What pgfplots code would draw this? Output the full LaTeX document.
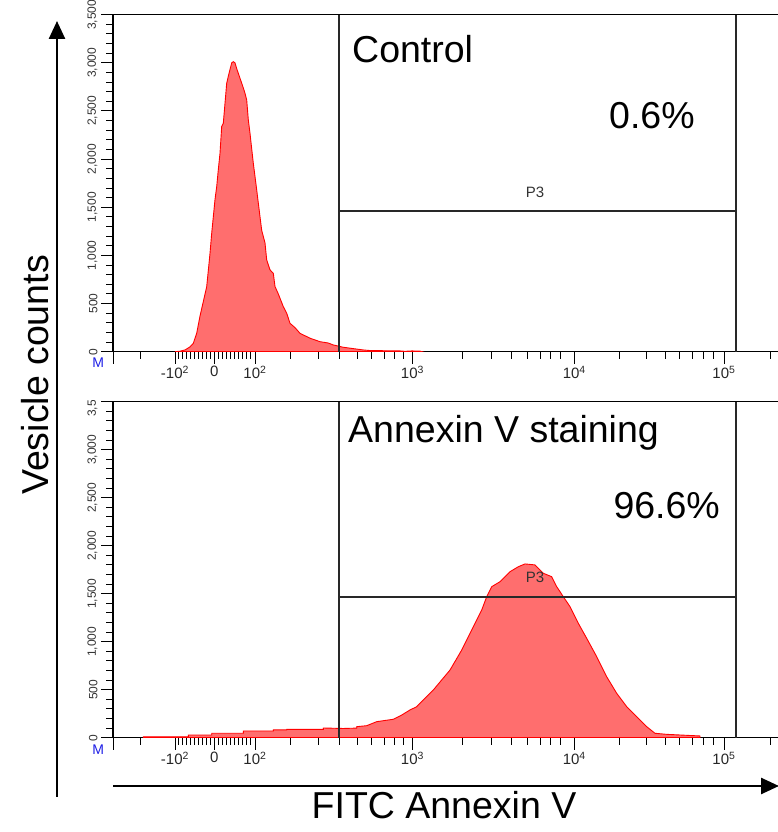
\documentclass[border=0pt]{standalone}
\usepackage{fontspec}
\setmainfont{Liberation Sans}
\usepackage{pgfplots}
\pgfplotsset{compat=1.18}
\usetikzlibrary{arrows.meta}
\definecolor{histfill}{RGB}{255,110,110}
\definecolor{histline}{RGB}{255,0,0}
\definecolor{mblue}{RGB}{30,30,230}
\definecolor{gateline}{RGB}{40,40,40}

\pgfplotsset{flowaxis/.style={
  scale only axis, width=665pt,
  xmin=113, xmax=778, ymin=0, ymax=3500,
  axis x line*=box, axis y line*=left,
  axis line style={line width=1.2pt, black},
  tick align=outside, xtick pos=left, ytick pos=left,
  major tick length=12pt, minor tick length=7pt,
  every tick/.style={line width=1pt, black},
  xtick={113,175,214.3,255,412.5,574.3,724},
  xticklabels={,-10\textsuperscript{2},0,10\textsuperscript{2},10\textsuperscript{3},10\textsuperscript{4},10\textsuperscript{5}},
  minor xtick={140.7,178.3,182.3,186.3,190.3,194.3,198.3,202.3,206.3,210.3,218.3,222.3,226.3,230.3,234.3,238.3,242.3,246.3,250.3,290,318.3,339.3,357.3,371.7,384,394.3,403.3,462.7,491,511.7,527.7,540,550.7,560,619.3,646,665,679.3,692.7,703.3,713.3,770},
  ytick={0,500,1000,1500,2000,2500,3000,3500},
  yticklabels={0,500,{1,000},{1,500},{2,000},{2,500},{3,000},{3,500}},
  minor y tick num=4,
  xticklabel style={font=\fontsize{15}{15}\selectfont, text=black!85, yshift=1pt},
  yticklabel style={font=\fontsize{12}{12}\selectfont, rotate=90, anchor=south, text=black!80},
}}

\begin{document}
\begin{tikzpicture}
\path[use as bounding box] (0,0) rectangle (778pt,832pt);

% ---------- top panel: Control ----------
\begin{axis}[flowaxis, height=337pt, at={(113pt,480.3pt)}, anchor=south west]
\addplot[fill=histfill, draw=histline, line width=0.9pt] coordinates {
(175,0) (180,5) (185,18) (190,50) (193.3,87) (196.7,191) (200,370) (203.3,520)
(206.7,675) (210,1020) (211.7,1230) (215,1580) (216.7,1714) (218.3,1890) (220,2060)
(221.7,2340) (223.3,2372) (225,2580) (226.7,2788) (228.3,2860) (231.7,3000) (233.3,3012)
(235,3000) (236.7,2940) (240,2840) (243.3,2740) (245,2684) (246.7,2614) (248.3,2410)
(250,2268) (253.3,1957) (255,1820) (256.7,1680) (260,1402) (261.7,1260) (265,1130)
(266.7,953) (270,850) (273.3,814) (275,677) (278.3,600) (283.3,468) (286.7,400)
(290,295) (295,250) (300,191) (310,140) (320,104) (328.3,90) (333.3,70) (343.3,46)
(363.3,18) (370,12) (385,10) (400,8) (405,4) (412,8) (420,6) (422,0)
} \closedcycle;
\draw[gateline, line width=1.2pt] (axis cs:339,0) -- (axis cs:339,3500);
\draw[gateline, line width=1.2pt] (axis cs:736,0) -- (axis cs:736,3500);
\draw[gateline, line width=1.2pt] (axis cs:339,1462) -- (axis cs:736,1462);
\node[font=\fontsize{15}{15}\selectfont, text=black!80, inner sep=0] at (axis cs:535,1659) {P3};
\end{axis}

% ---------- bottom panel: Annexin V staining ----------
\begin{axis}[flowaxis, height=336pt, at={(113pt,94.3pt)}, anchor=south west]
\addplot[fill=histfill, draw=histline, line width=0.9pt] coordinates {
(143.3,0) (143.3,10) (188.3,10) (188.3,28) (211.7,28) (211.7,46) (243.3,46) (243.3,70)
(273.3,70) (273.3,82) (286.7,82) (286.7,87) (323.3,87) (323.3,101) (343.3,96) (356.7,100)
(356.7,115) (366.7,125) (376.7,167) (393.3,192) (401.7,236) (410,289) (416.7,323)
(420,360) (433.3,497) (450,705) (461.7,913) (471.7,1122) (481.7,1330) (486.7,1469)
(491.7,1573) (500,1625) (510,1729) (518.3,1781) (525,1810) (535,1800) (543.3,1713)
(551.7,1677) (556.7,1573) (563.3,1469) (570,1365) (578.3,1192) (586.7,1035) (596.7,844)
(606.7,635) (616.7,462) (626.7,323) (636.7,219) (646.7,115) (655,46) (666.7,35)
(700,18) (700,0)
} \closedcycle;
\draw[gateline, line width=1.2pt] (axis cs:339,0) -- (axis cs:339,3500);
\draw[gateline, line width=1.2pt] (axis cs:736,0) -- (axis cs:736,3500);
\draw[gateline, line width=1.2pt] (axis cs:339,1466) -- (axis cs:736,1466);
\node[font=\fontsize{15}{15}\selectfont, text=black!80, inner sep=0] at (axis cs:535,1669) {P3};
\end{axis}

% mask: the bottom panel's top tick label is cut in the original
\fill[white] (70pt,432.3pt) rectangle (111pt,447pt);

% panel texts
\node[anchor=base west, inner sep=0, font=\fontsize{37.5}{40}\selectfont] at (352pt,769pt) {Control};
\node[anchor=base west, inner sep=0, font=\fontsize{37.5}{40}\selectfont] at (609pt,703.7pt) {0.6\%};
\node[anchor=base west, inner sep=0, font=\fontsize{37.5}{40}\selectfont] at (348pt,389pt) {Annexin V staining};
\node[anchor=base west, inner sep=0, font=\fontsize{37.5}{40}\selectfont] at (613.3pt,313.7pt) {96.6\%};

% "M" markers
\node[inner sep=0, text=mblue, font=\fontsize{14}{14}\selectfont] at (98.3pt,469.5pt) {M};
\node[inner sep=0, text=mblue, font=\fontsize{14}{14}\selectfont] at (98.3pt,82pt) {M};

% axis arrows and titles
\draw[line width=2.5pt, -{Triangle[length=18pt, width=16pt]}] (113pt,46pt) -- (779pt,46pt);
\draw[line width=2.5pt, -{Triangle[length=18pt, width=16pt]}] (57pt,35pt) -- (57pt,811pt);
\node[rotate=90, inner sep=0, font=\fontsize{37.5}{40}\selectfont] at (35pt,457pt) {Vesicle counts};
\node[anchor=base, inner sep=0, font=\fontsize{37.5}{40}\selectfont] at (444pt,13pt) {FITC Annexin V};
\end{tikzpicture}
\end{document}
